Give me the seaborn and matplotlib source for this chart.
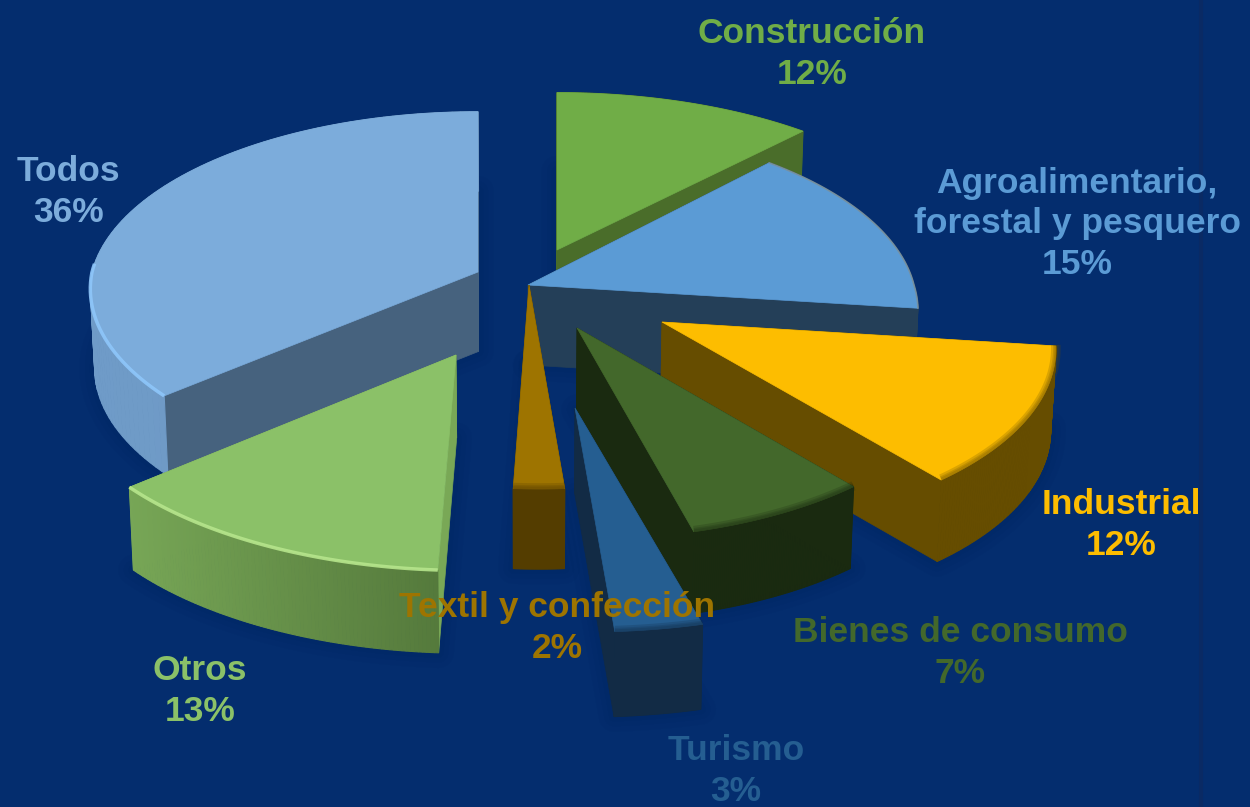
import numpy as np
import matplotlib.pyplot as plt
from matplotlib.patches import Polygon
from matplotlib.colors import to_rgb
import seaborn as sns

# datos del grafico
categorias = ['Construcción', 'Agroalimentario,\nforestal y pesquero', 'Industrial', 'Bienes de consumo',
              'Turismo', 'Textil y confección', 'Otros', 'Todos']
porcentajes = [12, 15, 12, 7, 3, 2, 13, 36]

# estilo
color_cara = ['#70ad47', '#5b9bd5', '#fdbd00', '#43682b', '#255e91', '#9e7400', '#8bc168', '#7cacdb']
color_lado = ['#4a6d2a', '#243f58', '#664d00', '#1a2a10', '#122b45', '#543d00', '#79a856', '#46627e']
borde_izq = ['#4a6d2a', '#243f58', '#664d00', '#1a2a10', '#122b45', '#543d00', '#77a656', '#6f9bc8']
borde_der = ['#4a6d2a', '#243f58', '#664d00', '#1a2a10', '#122b45', '#543d00', '#557a3c', '#7098c0']
brillo = [None, '#7d8f96', None, None, None, None, '#b6e58c', '#8ec6fa']
# desplazamiento de cada porcion respecto al centro de la tarta
explosion = [(29, -35), (0, 0), (134, 37), (49, 43), (47, 123), (1, 0), (-72, 70), (-50, -13)]
escala_x = [1.02, 1, 1.01, 1, 1.1, 0.95, 1.04, 1]
orden = [0, 1, 7, 2, 5, 3, 4, 6]
pos_etiqueta = [(812, 54), (1077, 224), (1121, 525), (960, 653), (736, 771), (557, 628), (200, 691), (68, 192)]

FONDO = '#042d6e'
CX, CY = 528, 285
R, RY, K, KY = 386, 183, 0.12, 0.115
ALTO = 80


def punto(theta, ax0, ay0, ex):
    # proyeccion del plano de la tarta a la imagen
    u, v = np.sin(theta), -np.cos(theta)
    return (ax0 + R * u * (1 + K * v) * ex + 10 * np.maximum(v, 0),
            ay0 + RY * v * (1 + KY * v) * (1 + 0.0008 * (ay0 - CY)))


def abajo(x, y, ay0):
    return CX + (x - CX) * 0.99, y + ALTO + 0.04 * (ay0 - CY)


def mezcla(c1, c2, t):
    return tuple((1 - t) * a + t * b for a, b in zip(to_rgb(c1), to_rgb(c2)))


sns.set_theme(style='white')
plt.rcParams['font.family'] = ['Liberation Sans', 'DejaVu Sans']
paleta = sns.color_palette(color_cara)

fig, ax = plt.subplots(figsize=(12.5, 8.07), dpi=100)
ax.set_position([0, 0, 1, 1])
fig.patch.set_facecolor(FONDO)
ax.set_facecolor(FONDO)
ax.set_xlim(0, 1250)
ax.set_ylim(807, 0)
ax.axis('off')
ax.axvline(1201, color='#0a2a64', lw=3, zorder=0)

limites = np.cumsum([0] + porcentajes) / sum(porcentajes) * 2 * np.pi
geometria = {}
for i in range(len(categorias)):
    ax0, ay0 = CX + explosion[i][0], CY + explosion[i][1]
    th = np.linspace(limites[i], limites[i + 1], 90)
    xs, ys = punto(th, ax0, ay0, escala_x[i])
    bx, by = abajo(xs, ys, ay0)
    bax, bay = abajo(ax0, ay0, ay0)
    geometria[i] = (ax0, ay0, th, xs, ys, bx, by, bax, bay)

# sombras suaves
for i in orden:
    ax0, ay0, th, xs, ys, bx, by, bax, bay = geometria[i]
    sil = np.column_stack([np.r_[bax, bx], np.r_[bay, by]])
    for lw in (22, 14, 7):
        ax.add_patch(Polygon(sil, closed=True, fc='none', ec='#001a50', lw=lw, alpha=0.06, zorder=1,
                             joinstyle='round'))

z = 2
for i in orden:
    ax0, ay0, th, xs, ys, bx, by, bax, bay = geometria[i]
    # caras radiales
    cara1 = [(ax0, ay0), (xs[0], ys[0]), (bx[0], by[0]), (bax, bay)]
    cara2 = [(ax0, ay0), (xs[-1], ys[-1]), (bx[-1], by[-1]), (bax, bay)]
    ax.add_patch(Polygon(cara1, closed=True, fc=color_lado[i], ec=color_lado[i], lw=0.5, zorder=z))
    ax.add_patch(Polygon(cara2, closed=True, fc=color_lado[i], ec=color_lado[i], lw=0.5, zorder=z))
    # borde curvo con degradado de izquierda a derecha
    x_min, x_max = xs.min(), xs.max()
    for j in range(len(th) - 1):
        t = (xs[j] - x_min) / max(x_max - x_min, 1)
        c = mezcla(borde_izq[i], borde_der[i], t)
        quad = [(xs[j], ys[j]), (xs[j + 1], ys[j + 1]), (bx[j + 1], by[j + 1]), (bx[j], by[j])]
        ax.add_patch(Polygon(quad, closed=True, fc=c, ec=c, lw=0.8, zorder=z))
    # cara superior
    sup = np.column_stack([np.r_[ax0, xs], np.r_[ay0, ys]])
    ax.add_patch(Polygon(sup, closed=True, fc=paleta[i], ec=paleta[i], lw=0.5, zorder=z))
    # bisel del borde
    frente = np.cos(th) < 0.05
    if i == 1:
        ax.plot(xs, ys, color=brillo[i], lw=1.2, alpha=0.8, zorder=z)
    elif brillo[i] is not None:
        ax.plot(xs[frente], ys[frente], color=brillo[i], lw=2.5, alpha=0.9, zorder=z,
                solid_capstyle='butt')
    elif i != 0:
        for lw in (7, 4, 2):
            ax.plot(xs[frente], ys[frente] - 1, color=color_lado[i], lw=lw, alpha=0.22, zorder=z,
                    solid_capstyle='butt')
    z += 1

for i, nombre in enumerate(categorias):
    ax.text(pos_etiqueta[i][0], pos_etiqueta[i][1], f'{nombre}\n{porcentajes[i]}%', color=paleta[i],
            ha='center', va='center', fontsize=25.5, fontweight='bold', linespacing=1.27, zorder=50)

sns.despine(ax=ax, left=True, bottom=True)
fig.savefig('out.png', dpi=100, facecolor=FONDO)
